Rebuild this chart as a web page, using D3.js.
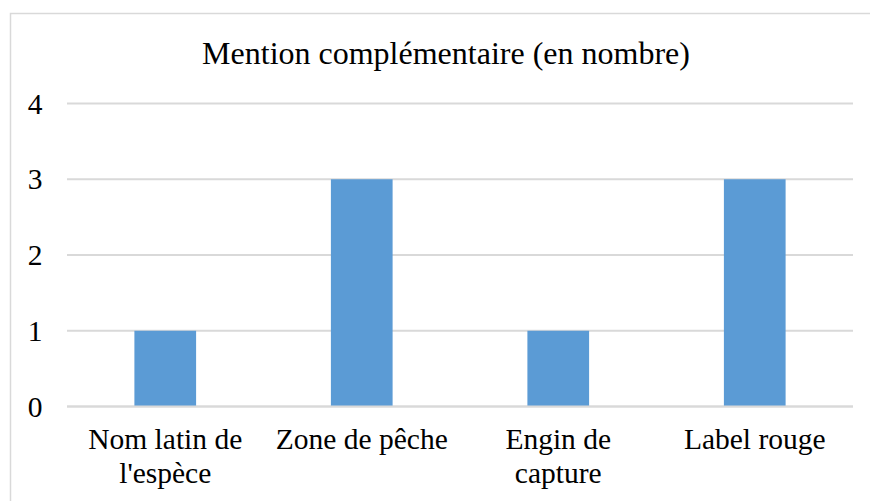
<html lang="fr">
<head>
  <meta charset="UTF-8"/>
  <title>Mention complémentaire</title>
  <script src="https://d3js.org/d3.v7.min.js"></script>
</head>
<body>
  <svg></svg>
</body>
<style>
body {
  margin: 0;
  background: #fff;
}
svg {
  width: 870px;
  height: 501px;
  display: block;
}
svg text {
  fill: #000;
  font-family: "Liberation Serif", "Times New Roman", serif;
}
.grid line {
  stroke: #d9d9d9;
  stroke-width: 2;
}
.bar {
  fill: #5b9bd5;
}
</style>
<script>
const categories = [["Nom latin de", "l'espèce"], ["Zone de pêche"], ["Engin de", "capture"], ["Label rouge"]];
const values = [1, 3, 1, 3];
const yTicks = [0, 1, 2, 3, 4];
const title = "Mention complémentaire (en nombre)";

const svg = d3.select('svg');

// chart frame (runs off the right/bottom edge in the original)
svg.append('rect')
  .attr('x', 10.5).attr('y', 13.5)
  .attr('width', 880).attr('height', 520)
  .attr('fill', '#fff')
  .attr('stroke', '#d9d9d9')
  .attr('stroke-width', 1.5);

const plotLeft = 67, plotRight = 853, plotTop = 103.5, plotBottom = 406.5;

const x = d3.scaleBand()
  .domain(d3.range(categories.length))
  .range([plotLeft, plotRight])
  .paddingInner(0.686)
  .paddingOuter(0.343);

const y = d3.scaleLinear()
  .domain([0, 4])
  .range([plotBottom, plotTop]);

svg.append('text')
  .attr('x', 446)
  .attr('y', 64)
  .attr('text-anchor', 'middle')
  .style('font-size', '32px')
  .text(title);

const grid = svg.append('g').attr('class', 'grid');
grid.selectAll('line')
  .data(yTicks)
  .join('line')
  .attr('x1', plotLeft).attr('x2', plotRight)
  .attr('y1', d => y(d)).attr('y2', d => y(d));

svg.selectAll('text.tick')
  .data(yTicks)
  .join('text')
  .attr('class', 'tick')
  .attr('x', 35)
  .attr('y', d => y(d) + 10)
  .attr('text-anchor', 'middle')
  .style('font-size', '29.5px')
  .text(d => d);

svg.selectAll('rect.bar')
  .data(values)
  .join('rect')
  .attr('class', 'bar')
  .attr('x', (d, i) => x(i))
  .attr('width', x.bandwidth())
  .attr('y', d => y(d))
  .attr('height', d => y(0) - y(d));

// redraw baseline over bars
svg.append('line')
  .attr('x1', plotLeft).attr('x2', plotRight)
  .attr('y1', y(0)).attr('y2', y(0))
  .attr('stroke', '#d9d9d9')
  .attr('stroke-width', 2);

const labels = svg.selectAll('text.cat')
  .data(categories)
  .join('text')
  .attr('class', 'cat')
  .attr('text-anchor', 'middle')
  .style('font-size', '29.5px');

labels.selectAll('tspan')
  .data((d, i) => d.map(s => ({s, i})))
  .join('tspan')
  .attr('x', d => x(d.i) + x.bandwidth() / 2)
  .attr('y', (d, j) => 449 + j * 34)
  .text(d => d.s);
</script>
</html>
